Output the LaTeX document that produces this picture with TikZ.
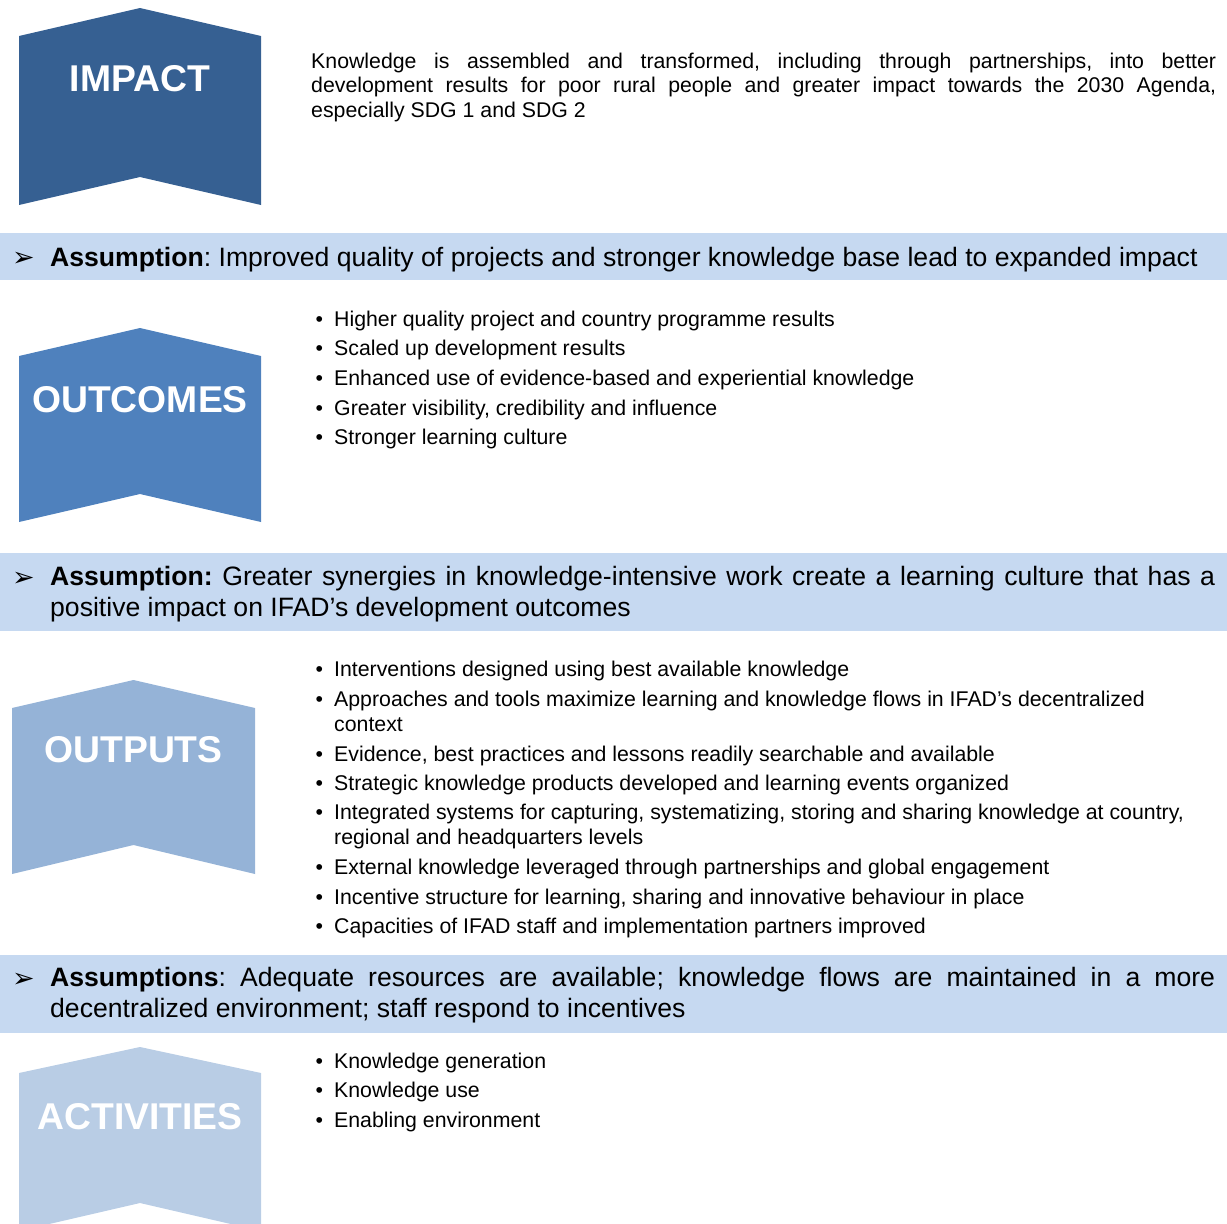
\documentclass[tikz,border=0pt]{standalone}
\usepackage{fontspec}
\setmainfont{Liberation Sans}
\newfontfamily\dingfont{DejaVu Sans}
\usetikzlibrary{positioning}
\frenchspacing

\definecolor{impactblue}{HTML}{366092}
\definecolor{outcomeblue}{HTML}{4F81BD}
\definecolor{outputblue}{HTML}{95B3D7}
\definecolor{activityblue}{HTML}{B9CDE5}
\definecolor{bandblue}{HTML}{C6D9F1}

\newcommand{\bodyfont}{\fontsize{21.3}{25}\selectfont}
\newcommand{\parafont}{\fontsize{21.3}{24.6}\selectfont}
\newcommand{\assumfont}{\fontsize{26.6}{31}\selectfont}
\newcommand{\headfont}{\fontsize{37.3}{40}\selectfont\bfseries}
\newcommand{\tipfont}{\fontsize{27}{28}\selectfont\dingfont}
\newcommand{\bul}{\llap{\textbullet\hspace{11pt}}}

\begin{document}
\begin{tikzpicture}[x=1pt,y=-1pt,
    every node/.style={inner sep=0pt},
    band/.style={fill=bandblue},
    lbl/.style={font=\headfont,text=white},
    para/.style={anchor=base west,font=\parafont,text width=905pt,align=justify},
    assum/.style={anchor=base west,font=\assumfont,text width=1165pt,align=justify},
    itm/.style={anchor=base west,font=\bodyfont,align=left},
    tip/.style={anchor=base west,font=\tipfont}]
    \useasboundingbox (0,0) rectangle (1227,1224);

    % chevrons
    \fill[impactblue] (19,36) -- (140,8) -- (261,36) -- (261,205) -- (140,177) -- (19,205) -- cycle;
    \fill[outcomeblue] (19,356) -- (140,328) -- (261,356) -- (261,522) -- (140,494) -- (19,522) -- cycle;
    \fill[outputblue] (12,708) -- (133.5,680) -- (255,708) -- (255,874) -- (133.5,845) -- (12,874) -- cycle;
    \fill[activityblue] (19,1073) -- (140,1047) -- (261,1073) -- (261,1231) -- (140,1203) -- (19,1231) -- cycle;
    \node[lbl] (impact)   at (140,79)    {IMPACT};
    \node[lbl] (outcomes) at (140,400)   {OUTCOMES};
    \node[lbl] (outputs)  at (133.5,750) {OUTPUTS};
    \node[lbl] (activities) at (140,1117) {ACTIVITIES};

    % assumption bands
    \fill[band] (0,233) rectangle (1227,280);
    \fill[band] (0,553) rectangle (1227,631);
    \fill[band] (0,955) rectangle (1227,1033);

    \node[para] (goal) at (311,68) {Knowledge is assembled and transformed, including through partnerships, into better\linebreak development results for poor rural people and greater impact towards the 2030 Agenda,\linebreak especially SDG 1 and SDG 2};

    \node[tip] (tip1) at (12,266) {➢};
    \node[assum] (as1) at (50,266) {\textbf{Assumption}: Improved quality of projects and stronger knowledge base lead to expanded impact};

    \node[itm] (o1) at (334,326)   {\bul Higher quality project and country programme results};
    \node[itm] (o2) at (334,355.5) {\bul Scaled up development results};
    \node[itm] (o3) at (334,385)   {\bul Enhanced use of evidence-based and experiential knowledge};
    \node[itm] (o4) at (334,415)   {\bul Greater visibility, credibility and influence};
    \node[itm] (o5) at (334,444.5) {\bul Stronger learning culture};

    \node[tip] (tip2) at (12,586) {➢};
    \node[assum] (as2) at (50,585.7) {\textbf{Assumption:} Greater synergies in knowledge-intensive work create a learning culture that has a\linebreak positive impact on IFAD’s development outcomes};

    % two-line items sit on their last line
    \node[itm] (p1) at (334,676.7) {\bul Interventions designed using best available knowledge};
    \node[itm] (p2) at (334,731.7) {\bul Approaches and tools maximize learning and knowledge flows in IFAD’s decentralized\\context};
    \node[itm] (p3) at (334,761)   {\bul Evidence, best practices and lessons readily searchable and available};
    \node[itm] (p4) at (334,790.5) {\bul Strategic knowledge products developed and learning events organized};
    \node[itm] (p5) at (334,844.7) {\bul Integrated systems for capturing, systematizing, storing and sharing knowledge at country,\\regional and headquarters levels};
    \node[itm] (p6) at (334,874.5) {\bul External knowledge leveraged through partnerships and global engagement};
    \node[itm] (p7) at (334,904)   {\bul Incentive structure for learning, sharing and innovative behaviour in place};
    \node[itm] (p8) at (334,933.5) {\bul Capacities of IFAD staff and implementation partners improved};

    \node[tip] (tip3) at (12,987) {➢};
    \node[assum] (as3) at (50,986.7) {\textbf{Assumptions}: Adequate resources are available; knowledge flows are maintained in a more\linebreak decentralized environment; staff respond to incentives};

    \node[itm] (a1) at (334,1068)  {\bul Knowledge generation};
    \node[itm] (a2) at (334,1097.5){\bul Knowledge use};
    \node[itm] (a3) at (334,1127)  {\bul Enabling environment};
\end{tikzpicture}
\end{document}
